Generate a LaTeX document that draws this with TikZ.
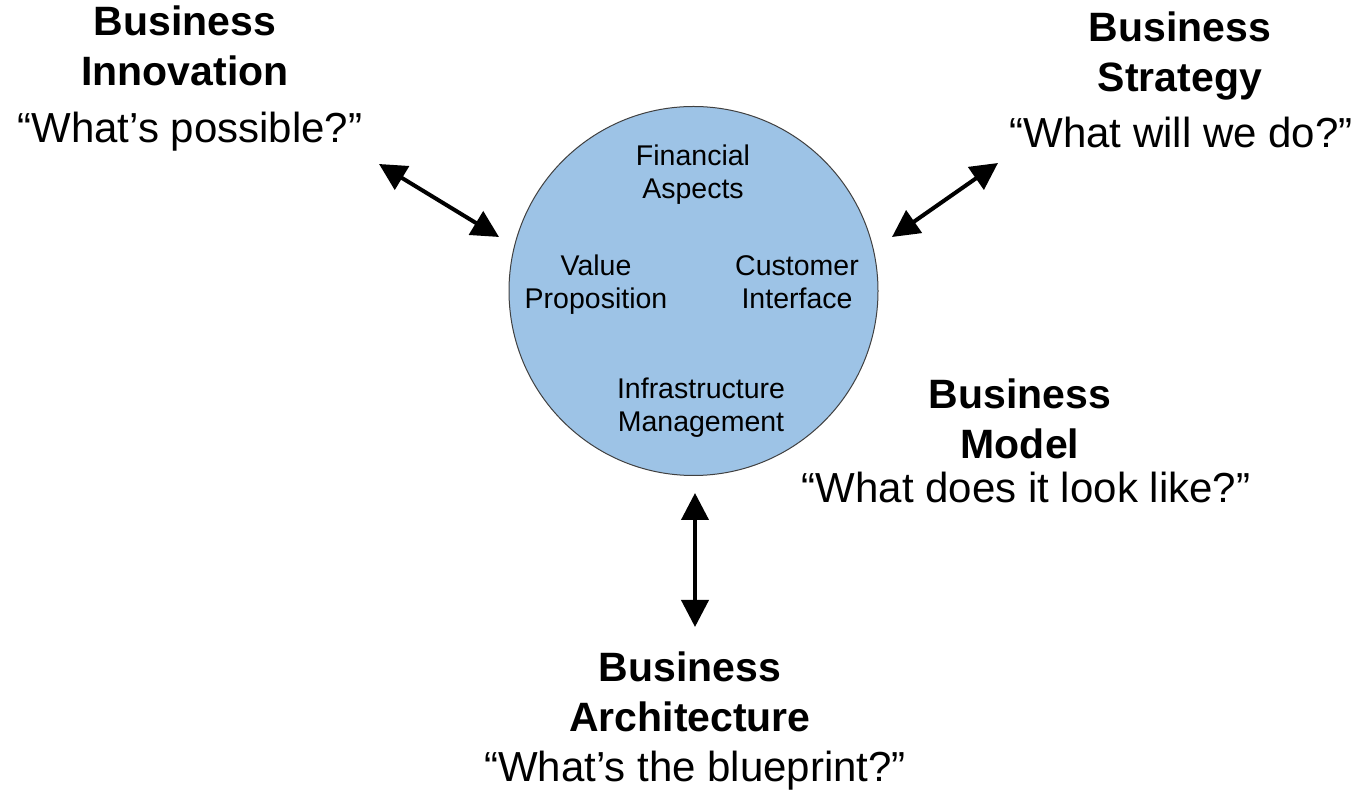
\documentclass[tikz,border=0pt]{standalone}
\usepackage{fontspec}
\setmainfont{Liberation Sans}
\usetikzlibrary{arrows.meta,positioning}
\definecolor{bmblue}{RGB}{157,195,230}

\begin{document}
\begin{tikzpicture}[x=1pt,y=1pt,
        model/.style={circle, draw=black!75, line width=1pt, fill=bmblue, minimum size=369pt, inner sep=0pt},
        part/.style={align=center, inner sep=0pt, anchor=north, font=\fontsize{28.5}{33}\selectfont},
        title/.style={align=center, inner sep=0pt, anchor=north, font=\fontsize{41}{50}\selectfont\bfseries},
        question/.style={inner sep=0pt, anchor=base, font=\fontsize{42}{50}\selectfont},
        link/.style={line width=4pt, {Triangle[length=27pt,width=27pt]}-{Triangle[length=27pt,width=27pt]}}]
    \useasboundingbox (0,0) rectangle (1357,792);
    % the business model circle
    \node[model] (bm) at (693.5,501) {};
    \node[part] (fin) at (693,647) {Financial\\Aspects};
    \node[part] (val) at (596,537) {Value\\Proposition};
    \node[part] (cust) at (797,537) {Customer\\Interface};
    \node[part] (infra) at (701,414) {Infrastructure\\Management};
    % the four views
    \node[title] (innov) at (185,786) {Business\\Innovation};
    \node[question] (innovq) at (190,649) {“What’s possible?”};
    \node[title] (strat) at (1180,780) {Business\\Strategy};
    \node[question] (stratq) at (1181,644) {“What will we do?”};
    \node[title] (model) at (1020,413) {Business\\Model};
    \node[question] (modelq) at (1026,289) {“What does it look like?”};
    \node[title] (arch) at (690,140) {Business\\Architecture};
    \node[question] (archq) at (695,10) {“What’s the blueprint?”};
    % arrow ends
    \coordinate (innov-end) at (379,628);
    \coordinate (bm-w) at (499,555);
    \coordinate (strat-end) at (998,629);
    \coordinate (bm-e) at (892,555);
    \coordinate (bm-s) at (695,299);
    \coordinate (arch-end) at (695,165);
    \draw[link] (innov-end) -- (bm-w);
    \draw[link] (strat-end) -- (bm-e);
    \draw[link] (bm-s) -- (arch-end);
\end{tikzpicture}
\end{document}
